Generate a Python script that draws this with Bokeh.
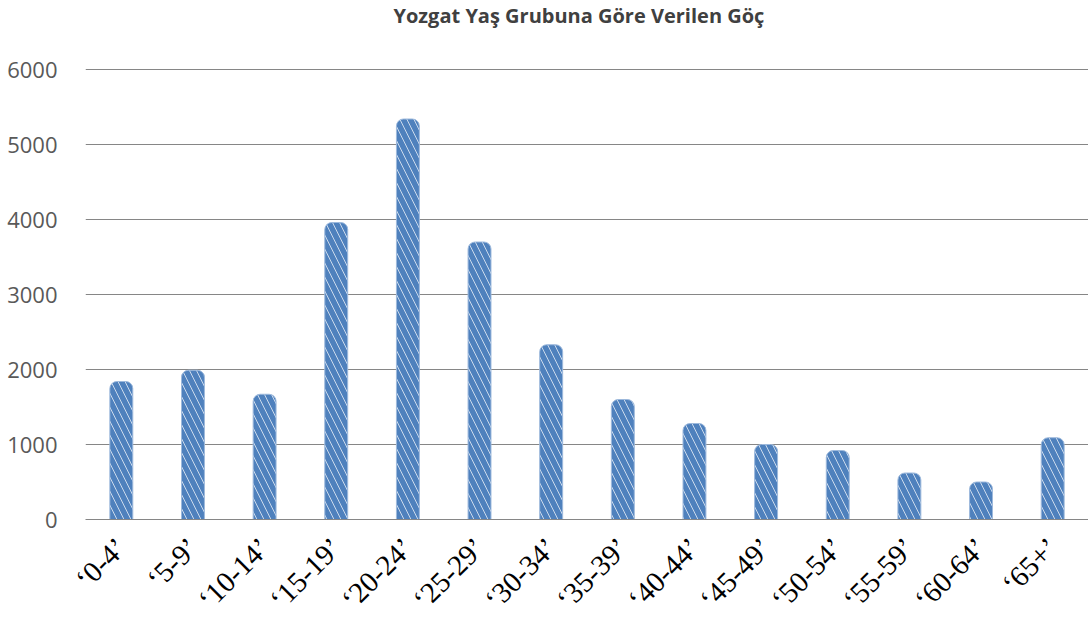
import math
from bokeh.plotting import figure
from bokeh.models import ColumnDataSource, Range1d, FixedTicker, Label
from bokeh.embed import file_html
from bokeh.resources import INLINE

categories = ["‘0-4’", "‘5-9’", "‘10-14’", "‘15-19’", "‘20-24’", "‘25-29’", "‘30-34’",
              "‘35-39’", "‘40-44’", "‘45-49’", "‘50-54’", "‘55-59’", "‘60-64’", "‘65+’"]
values = [1840, 1990, 1670, 3960, 5340, 3700, 2330, 1600, 1280, 1000, 920, 620, 500, 1090]
y_ticks = [0, 1000, 2000, 3000, 4000, 5000, 6000]
title_text = "Yozgat Yaş Grubuna Göre Verilen Göç"

src = ColumnDataSource(dict(cat=categories, val=values))

FRAME_H = 519          # frame spans the whole top area; 6000 sits 69px below the top
Y_MAX = 6000 * FRAME_H / (FRAME_H - 69)

p = figure(x_range=categories, y_range=Range1d(0, Y_MAX),
           frame_width=1003, frame_height=FRAME_H,
           output_backend="svg", toolbar_location=None,
           min_border_left=85, min_border_right=0, min_border_top=0, min_border_bottom=0)

p.add_layout(Label(text=title_text, x=308, y=FRAME_H - 15, x_units="screen", y_units="screen",
                   text_font="Open Sans", text_font_size="20px", text_font_style="bold",
                   text_color="#404040", text_baseline="middle", text_align="left"))

p.vbar(x="cat", top="val", width=0.32, source=src, fill_color="#4F81BD",
       line_color="#9DB9DC", line_width=1,
       hatch_pattern="\\", hatch_color="white", hatch_alpha=0.7,
       hatch_weight=1, hatch_scale=14, border_radius=(7, 7, 0, 0))

p.outline_line_color = None
p.xgrid.grid_line_color = None
p.ygrid.grid_line_color = "#868686"
p.ygrid.grid_line_width = 1
p.yaxis.ticker = FixedTicker(ticks=y_ticks)
p.yaxis.axis_line_color = None
p.yaxis.major_tick_line_color = None
p.yaxis.minor_tick_line_color = None
p.yaxis.major_label_text_font = "Open Sans"
p.yaxis.major_label_text_font_size = "22px"
p.yaxis.major_label_text_color = "#595959"
p.yaxis.major_label_standoff = 22

p.xaxis.axis_line_color = "#868686"
p.xaxis.major_tick_line_color = None
p.xaxis.minor_tick_line_color = None
p.xaxis.major_label_orientation = math.pi / 4
p.xaxis.major_label_text_font = "Liberation Serif"
p.xaxis.major_label_text_font_size = "29px"
p.xaxis.major_label_text_color = "#000000"
p.xaxis.major_label_standoff = 17
p.x_range.range_padding = 0.0

open("out.html", "w").write(file_html(p, INLINE))
